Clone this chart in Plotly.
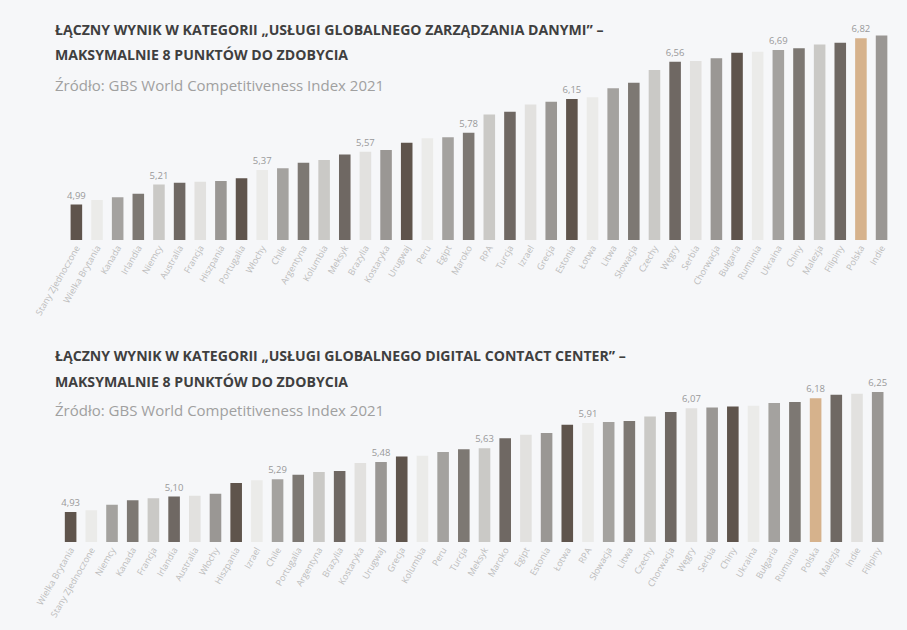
import plotly.graph_objects as go

# ---------------- data ----------------
countries_top = [
    "Stany Zjednoczone", "Wielka Brytania", "Kanada", "Irlandia", "Niemcy",
    "Australia", "Francja", "Hiszpania", "Portugalia", "Włochy",
    "Chile", "Argentyna", "Kolumbia", "Meksyk", "Brazylia",
    "Kostaryka", "Urugwaj", "Peru", "Egipt", "Maroko",
    "RPA", "Turcja", "Izrael", "Grecja", "Estonia",
    "Łotwa", "Litwa", "Słowacja", "Czechy", "Węgry",
    "Serbia", "Chorwacja", "Bułgaria", "Rumunia", "Ukraina",
    "Chiny", "Malezja", "Filipiny", "Polska", "Indie",
]
values_top = [
    4.99, 5.04, 5.07, 5.11, 5.21, 5.23, 5.24, 5.25, 5.28, 5.37,
    5.39, 5.45, 5.48, 5.54, 5.57, 5.59, 5.67, 5.72, 5.73, 5.78,
    5.98, 6.01, 6.09, 6.12, 6.15, 6.17, 6.27, 6.33, 6.47, 6.56,
    6.57, 6.60, 6.66, 6.67, 6.69, 6.71, 6.75, 6.77, 6.82, 6.85,
]
labelled_top = [0, 4, 9, 14, 19, 24, 29, 34, 38]

countries_bottom = [
    "Wielka Brytania", "Stany Zjednoczone", "Niemcy", "Kanada", "Francja",
    "Irlandia", "Australia", "Włochy", "Hiszpania", "Izrael",
    "Chile", "Portugalia", "Argentyna", "Brazylia", "Kostaryka",
    "Urugwaj", "Grecja", "Kolumbia", "Peru", "Turcja",
    "Meksyk", "Maroko", "Egipt", "Estonia", "Łotwa",
    "RPA", "Słowacja", "Litwa", "Czechy", "Chorwacja",
    "Węgry", "Serbia", "Chiny", "Ukraina", "Bułgaria",
    "Rumunia", "Polska", "Malezja", "Indie", "Filipiny",
]
values_bottom = [
    4.93, 4.95, 5.01, 5.06, 5.08, 5.10, 5.11, 5.13, 5.25, 5.28,
    5.29, 5.34, 5.37, 5.38, 5.47, 5.48, 5.54, 5.55, 5.59, 5.62,
    5.63, 5.74, 5.78, 5.80, 5.89, 5.91, 5.92, 5.93, 5.98, 6.03,
    6.07, 6.08, 6.09, 6.10, 6.13, 6.14, 6.18, 6.22, 6.23, 6.25,
]
labelled_bottom = [0, 5, 10, 15, 20, 25, 30, 36, 39]

palette = ["#5f544c", "#ebebe9", "#a4a29f", "#7d7873", "#cac9c6",
           "#6f6863", "#e2e1df", "#9a9794"]
highlight = "Polska"
highlight_color = "#d6b28c"

title_top = ["ŁĄCZNY WYNIK W KATEGORII „USŁUGI GLOBALNEGO ZARZĄDZANIA DANYMI” –",
             "MAKSYMALNIE 8 PUNKTÓW DO ZDOBYCIA"]
title_bottom = ["ŁĄCZNY WYNIK W KATEGORII „USŁUGI GLOBALNEGO DIGITAL CONTACT CENTER” –",
                "MAKSYMALNIE 8 PUNKTÓW DO ZDOBYCIA"]
source = "Źródło: GBS World Competitiveness Index 2021"

# ---------------- figure ----------------
W, H = 907, 630
FONT = "Open Sans"


def bar_trace(countries, values, labelled, xa, ya):
    colors = [highlight_color if c == highlight else palette[i % len(palette)]
              for i, c in enumerate(countries)]
    texts = [f"{v:.2f}".replace(".", ",") if i in labelled else ""
             for i, v in enumerate(values)]
    return go.Bar(
        x=countries, y=values, xaxis=xa, yaxis=ya,
        marker=dict(color=colors, line=dict(width=0)),
        width=0.56,
        text=texts, textposition="outside", cliponaxis=False,
        constraintext="none",
        textfont=dict(family=FONT, size=9.5, color="#999999"),
        hoverinfo="x+y", showlegend=False,
    )


fig = go.Figure()
fig.add_trace(bar_trace(countries_top, values_top, labelled_top, "x", "y"))
fig.add_trace(bar_trace(countries_bottom, values_bottom, labelled_bottom, "x2", "y2"))

def py(px):
    return 1 - px / H

def pxx(px):
    return px / W

axis_common = dict(showgrid=False, zeroline=False, showline=False,
                   ticks="", tickangle=-60,
                   tickfont=dict(family=FONT, size=9, color="#bcbcbc"))

fig.update_layout(
    width=W, height=H,
    margin=dict(l=0, r=0, t=0, b=0),
    paper_bgcolor="#f6f7f9", plot_bgcolor="rgba(0,0,0,0)",
    xaxis=dict(domain=[pxx(33.3), pxx(891.3)], anchor="y", range=[-0.5, 39.5], **axis_common),
    yaxis=dict(domain=[py(240), py(20)], range=[4.6, 4.6 + 220 * 0.011],
               visible=False, anchor="x"),
    xaxis2=dict(domain=[pxx(27.3), pxx(887.3)], anchor="y2", range=[-0.5, 39.5], **axis_common),
    yaxis2=dict(domain=[py(542), py(370)], range=[4.6, 4.6 + 172 * 0.011],
                visible=False, anchor="x2"),
)

def add_titles(lines, y1, y2, y3):
    for txt, y in ((lines[0], y1), (lines[1], y2)):
        fig.add_annotation(text=f"<b>{txt}</b>", xref="paper", yref="paper",
                           x=pxx(20), y=py(y), xanchor="left", yanchor="middle",
                           showarrow=False,
                           font=dict(family=FONT, size=14.1, color="#3f3f3f"))
    fig.add_annotation(text=source, xref="paper", yref="paper",
                       x=pxx(20), y=py(y3), xanchor="left", yanchor="middle",
                       showarrow=False,
                       font=dict(family=FONT, size=15, color="#a0a0a0"))

add_titles(title_top, 29, 54, 85)
add_titles(title_bottom, 355, 381, 410)

fig.write_html("out.html")
